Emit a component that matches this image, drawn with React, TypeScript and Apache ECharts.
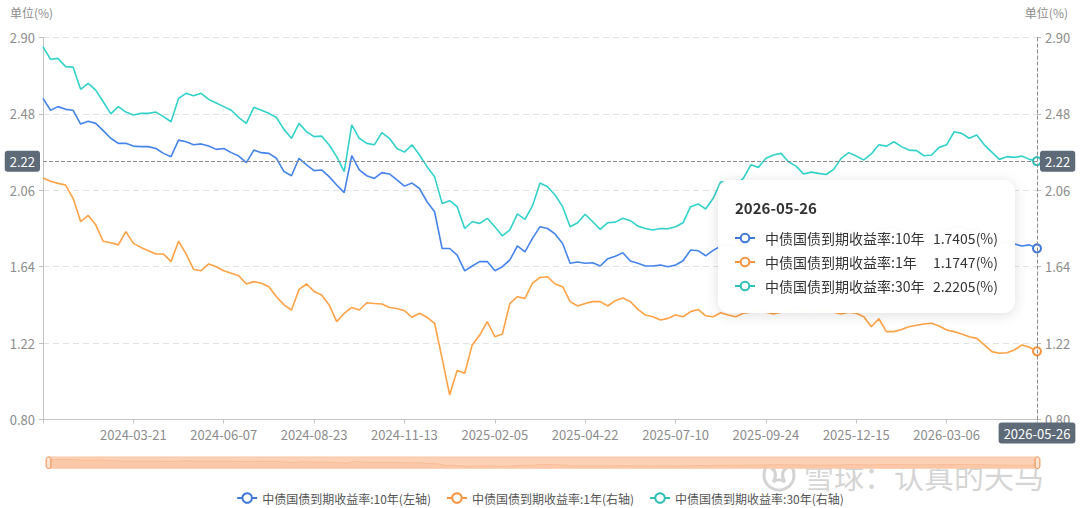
import React, { useEffect, useRef } from "react";
import * as echarts from "echarts";

const categories = [
  "2024-01-02", "2024-01-09", "2024-01-16", "2024-01-23", "2024-01-30", "2024-02-06", "2024-02-19", "2024-02-26", "2024-03-01", "2024-03-07", "2024-03-13", "2024-03-18",
  "2024-03-21", "2024-03-28", "2024-04-03", "2024-04-11", "2024-04-17", "2024-04-24", "2024-04-30", "2024-05-10", "2024-05-16", "2024-05-22", "2024-05-28", "2024-06-03",
  "2024-06-07", "2024-06-14", "2024-06-20", "2024-06-27", "2024-07-03", "2024-07-09", "2024-07-16", "2024-07-22", "2024-07-26", "2024-08-01", "2024-08-07", "2024-08-15",
  "2024-08-23", "2024-08-29", "2024-09-05", "2024-09-11", "2024-09-19", "2024-09-26", "2024-10-09", "2024-10-15", "2024-10-21", "2024-10-25", "2024-10-31", "2024-11-06",
  "2024-11-13", "2024-11-19", "2024-11-25", "2024-11-29", "2024-12-05", "2024-12-11", "2024-12-17", "2024-12-24", "2024-12-30", "2025-01-07", "2025-01-14", "2025-01-22",
  "2025-02-05", "2025-02-11", "2025-02-17", "2025-02-21", "2025-02-27", "2025-03-05", "2025-03-11", "2025-03-17", "2025-03-21", "2025-03-27", "2025-04-03", "2025-04-14",
  "2025-04-22", "2025-04-28", "2025-05-07", "2025-05-13", "2025-05-19", "2025-05-23", "2025-05-29", "2025-06-05", "2025-06-11", "2025-06-17", "2025-06-23", "2025-07-03",
  "2025-07-10", "2025-07-16", "2025-07-22", "2025-07-28", "2025-08-01", "2025-08-07", "2025-08-13", "2025-08-19", "2025-08-25", "2025-08-29", "2025-09-04", "2025-09-17",
  "2025-09-24", "2025-09-30", "2025-10-13", "2025-10-17", "2025-10-23", "2025-10-29", "2025-11-04", "2025-11-10", "2025-11-14", "2025-11-20", "2025-11-26", "2025-12-08",
  "2025-12-15", "2025-12-19", "2025-12-25", "2025-12-31", "2026-01-08", "2026-01-14", "2026-01-20", "2026-01-26", "2026-01-30", "2026-02-05", "2026-02-11", "2026-02-27",
  "2026-03-06", "2026-03-12", "2026-03-18", "2026-03-24", "2026-03-30", "2026-04-03", "2026-04-10", "2026-04-16", "2026-04-22", "2026-04-28", "2026-05-11", "2026-05-19",
  "2026-05-26",
];

const yield10Y = [
  2.565, 2.5, 2.52, 2.505, 2.5, 2.424, 2.44, 2.428, 2.388, 2.346, 2.318, 2.318,
  2.303, 2.3, 2.3, 2.29, 2.263, 2.245, 2.336, 2.327, 2.31, 2.315, 2.303, 2.285,
  2.29, 2.267, 2.248, 2.212, 2.281, 2.267, 2.263, 2.236, 2.163, 2.14, 2.236, 2.2,
  2.168, 2.172, 2.135, 2.089, 2.047, 2.25, 2.172, 2.14, 2.125, 2.157, 2.15, 2.117,
  2.083, 2.1, 2.07, 1.997, 1.942, 1.74, 1.74, 1.704, 1.617, 1.644, 1.668, 1.668,
  1.618, 1.64, 1.677, 1.754, 1.722, 1.796, 1.86, 1.85, 1.82, 1.768, 1.659, 1.666,
  1.659, 1.662, 1.644, 1.684, 1.698, 1.717, 1.671, 1.659, 1.644, 1.644, 1.649, 1.64,
  1.649, 1.673, 1.732, 1.728, 1.7, 1.73, 1.754, 1.76, 1.75, 1.77, 1.8, 1.79,
  1.82, 1.83, 1.83, 1.81, 1.8, 1.78, 1.79, 1.78, 1.78, 1.79, 1.82, 1.84,
  1.83, 1.82, 1.83, 1.85, 1.85, 1.86, 1.84, 1.83, 1.83, 1.82, 1.82, 1.84,
  1.84, 1.86, 1.86, 1.84, 1.85, 1.82, 1.8, 1.78, 1.77, 1.765, 1.754, 1.76,
  1.7405,
];

const yield1Y = [
  2.127, 2.11, 2.098, 2.089, 2.016, 1.888, 1.922, 1.87, 1.78, 1.772, 1.76, 1.833,
  1.768, 1.746, 1.728, 1.71, 1.71, 1.668, 1.78, 1.71, 1.625, 1.618, 1.655, 1.64,
  1.618, 1.604, 1.59, 1.545, 1.558, 1.549, 1.53, 1.475, 1.43, 1.402, 1.515, 1.545,
  1.504, 1.484, 1.43, 1.338, 1.384, 1.416, 1.402, 1.442, 1.438, 1.435, 1.416, 1.41,
  1.398, 1.362, 1.384, 1.362, 1.329, 1.136, 0.935, 1.07, 1.054, 1.21, 1.264, 1.338,
  1.255, 1.27, 1.438, 1.475, 1.466, 1.549, 1.581, 1.585, 1.545, 1.53, 1.448, 1.424,
  1.438, 1.448, 1.448, 1.424, 1.453, 1.468, 1.448, 1.405, 1.374, 1.365, 1.347, 1.356,
  1.374, 1.365, 1.393, 1.405, 1.37, 1.365, 1.387, 1.374, 1.365, 1.384, 1.39, 1.4,
  1.39, 1.38, 1.39, 1.4, 1.41, 1.4, 1.39, 1.4, 1.4, 1.39, 1.38, 1.39,
  1.384, 1.365, 1.31, 1.354, 1.283, 1.283, 1.295, 1.31, 1.318, 1.325, 1.329, 1.314,
  1.292, 1.283, 1.27, 1.255, 1.246, 1.21, 1.173, 1.164, 1.167, 1.182, 1.21, 1.197,
  1.1747,
];

const yield30Y = [
  2.85, 2.78, 2.785, 2.74, 2.737, 2.615, 2.648, 2.611, 2.547, 2.48, 2.52, 2.49,
  2.474, 2.483, 2.483, 2.49, 2.465, 2.437, 2.565, 2.593, 2.58, 2.593, 2.56, 2.54,
  2.52, 2.5, 2.46, 2.428, 2.516, 2.5, 2.483, 2.46, 2.395, 2.346, 2.428, 2.382,
  2.355, 2.358, 2.309, 2.245, 2.163, 2.42, 2.346, 2.318, 2.31, 2.377, 2.346, 2.29,
  2.27, 2.31, 2.254, 2.19, 2.135, 1.988, 2.003, 1.97, 1.85, 1.887, 1.878, 1.906,
  1.86, 1.81, 1.842, 1.93, 1.9, 1.974, 2.1, 2.08, 2.034, 1.97, 1.86, 1.882,
  1.928, 1.887, 1.845, 1.882, 1.885, 1.906, 1.893, 1.863, 1.85, 1.842, 1.85, 1.849,
  1.86, 1.882, 1.97, 1.985, 1.957, 2.016, 2.107, 2.1, 2.09, 2.125, 2.2, 2.186,
  2.236, 2.254, 2.263, 2.217, 2.193, 2.15, 2.16, 2.153, 2.147, 2.175, 2.236, 2.267,
  2.248, 2.227, 2.26, 2.31, 2.303, 2.327, 2.3, 2.281, 2.278, 2.25, 2.254, 2.296,
  2.31, 2.382, 2.373, 2.346, 2.364, 2.31, 2.27, 2.23, 2.245, 2.241, 2.248, 2.23,
  2.2205,
];

const seriesNames = [
  "中债国债到期收益率:10年(左轴)",
  "中债国债到期收益率:1年(右轴)",
  "中债国债到期收益率:30年(右轴)",
];
const seriesColors = ["#3f78d6", "#f5933f", "#2ebfb8"];
const yMin = 0.8;
const yMax = 2.9;
const yInterval = 0.42;
const labelEvery = 12;
const pointerValue = 2.22;
const unitText = "单位(%)";
const watermarkText = "雪球：认真的天马";

const FONT = '"Noto Sans CJK SC", "Noto Sans", sans-serif';
const POINTER_BG = "#5e6a78";

let logoRegistered = false;

export default function App() {
  const ref = useRef<HTMLDivElement>(null);

  useEffect(() => {
    document.body.style.margin = "0";
    if (!ref.current) return;
    if (!logoRegistered) {
      echarts.graphic.registerShape(
        "xqLogo",
        echarts.graphic.extendPath(
          "M8 9 C13 11 14 17 10 23 M24 9 C19 11 18 17 22 23 M10 23 C14 20 18 20 22 23",
          {}
        )
      );
      logoRegistered = true;
    }
    const chart = echarts.init(ref.current, undefined, { renderer: "svg" });

    const yAxisCommon = {
      type: "value",
      min: yMin,
      max: yMax,
      interval: yInterval,
      axisLabel: {
        color: "#8c8c8c",
        fontSize: 13,
        fontFamily: FONT,
        margin: 8,
        formatter: (v: number) => v.toFixed(2),
      },
      axisTick: { show: true, length: 4, lineStyle: { color: "#bdbdbd" } },
    };

    const option: any = {
      animation: false,
      textStyle: { fontFamily: FONT },
      grid: { left: 43, right: 43, top: 37.5, bottom: 88.5, containLabel: false },
      tooltip: {
        trigger: "axis",
        transitionDuration: 0,
        backgroundColor: "rgba(255,255,255,0.97)",
        borderWidth: 0,
        padding: [18, 17, 15, 17],
        extraCssText: "border-radius:12px;box-shadow:0 2px 14px rgba(0,0,0,0.13);",
        position: (point: number[], _p: any, _d: any, _r: any, size: any) => [
          point[0] - size.contentSize[0] - 22,
          point[1] + 19,
        ],
        axisPointer: {
          type: "cross",
          crossStyle: { color: "#8a8a8a", type: "dashed", width: 1 },
          lineStyle: { color: "#8a8a8a", type: "dashed", width: 1 },
          label: {
            backgroundColor: POINTER_BG,
            color: "#fff",
            fontSize: 13,
            fontFamily: FONT,
            padding: [4, 5, 4, 5],
            borderRadius: 3,
            formatter: (p: any) =>
              p.axisDimension === "y" ? Number(p.value).toFixed(2) : String(p.value),
          },
        },
        formatter: (params: any) => {
          const list = Array.isArray(params) ? params : [params];
          const title = list.length ? list[0].axisValue : "";
          let html = `<div style="font-family:${FONT};">`;
          html += `<div style="font-size:15px;font-weight:bold;color:#333;line-height:20px;margin-bottom:8px">${title}</div>`;
          list.forEach((p: any) => {
            const name = String(p.seriesName).replace(/\((左轴|右轴)\)$/, "");
            html +=
              `<div style="display:flex;align-items:center;width:263px;height:24px;font-size:14px;color:#333">` +
              `<svg width="20" height="12" style="flex:none"><line x1="0" y1="6" x2="20" y2="6" stroke="${p.color}" stroke-width="2"/>` +
              `<circle cx="10" cy="6" r="4.3" fill="#fff" stroke="${p.color}" stroke-width="2"/></svg>` +
              `<span style="margin-left:10px">${name}</span>` +
              `<span style="margin-left:auto">${Number(p.value).toFixed(4)}(%)</span></div>`;
          });
          return html + "</div>";
        },
      },
      legend: {
        data: seriesNames,
        left: "center",
        top: 487,
        itemWidth: 20,
        itemHeight: 12,
        itemGap: 15,
        textStyle: { fontSize: 12, color: "#555", fontFamily: FONT },
      },
      xAxis: {
        type: "category",
        boundaryGap: false,
        data: categories,
        axisLine: { show: true, lineStyle: { color: "#c4c4c4" } },
        axisTick: {
          show: true,
          length: 4,
          interval: labelEvery - 1,
          lineStyle: { color: "#c4c4c4" },
        },
        axisLabel: {
          color: "#8c8c8c",
          fontSize: 13,
          fontFamily: FONT,
          margin: 8,
          interval: (idx: number) =>
            idx % labelEvery === 0 && idx !== 0 && idx !== categories.length - 1,
        },
        splitLine: { show: false },
      },
      yAxis: [
        {
          ...yAxisCommon,
          position: "left",
          axisLine: { show: true, lineStyle: { color: "#c4c4c4" } },
          splitLine: { show: true, lineStyle: { color: "#e2e2e2", type: [6, 4] } },
        },
        {
          ...yAxisCommon,
          position: "right",
          axisLine: { show: false },
          splitLine: { show: false },
        },
      ],
      dataZoom: [
        {
          type: "slider",
          xAxisIndex: 0,
          start: 0,
          end: 100,
          left: 45,
          right: 44,
          top: 456.5,
          height: 11.5,
          showDetail: false,
          brushSelect: false,
          moveHandleSize: 0,
          borderColor: "#f9c6a2",
          backgroundColor: "#fde3d1",
          fillerColor: "rgba(249,176,128,0.35)",
          dataBackground: {
            lineStyle: { color: "#f4b48a", width: 0.6 },
            areaStyle: { color: "#fbd3b8", opacity: 0.7 },
          },
          selectedDataBackground: {
            lineStyle: { color: "#f4b48a", width: 0.6 },
            areaStyle: { color: "#fbd3b8", opacity: 0.7 },
          },
          handleIcon:
            "path://M5,0 C7.8,0 10,2.2 10,5 L10,19 C10,21.8 7.8,24 5,24 C2.2,24 0,21.8 0,19 L0,5 C0,2.2 2.2,0 5,0 Z",
          handleSize: "100%",
          handleStyle: { color: "#fde3d1", borderColor: "#ee8a4c", borderWidth: 1 },
        },
      ],
      series: [
        { data: yield10Y, yAxisIndex: 0 },
        { data: yield1Y, yAxisIndex: 1 },
        { data: yield30Y, yAxisIndex: 1 },
      ].map((s, i) => ({
        type: "line",
        name: seriesNames[i],
        data: s.data,
        yAxisIndex: s.yAxisIndex,
        color: seriesColors[i],
        showSymbol: false,
        symbol: "emptyCircle",
        symbolSize: 8,
        itemStyle: { color: seriesColors[i], borderWidth: 2 },
        lineStyle: { width: 1.6, color: seriesColors[i] },
        emphasis: { scale: false, lineStyle: { width: 1.6 } },
      })),
      graphic: [
        {
          type: "text",
          left: 10,
          top: 6,
          style: { text: unitText, fill: "#8c8c8c", fontSize: 12, fontFamily: FONT },
        },
        {
          type: "text",
          right: 12,
          top: 6,
          style: { text: unitText, fill: "#8c8c8c", fontSize: 12, fontFamily: FONT },
        },
        {
          type: "group",
          z: 100,
          children: [
            {
              type: "circle",
              shape: { cx: 779, cy: 475, r: 15 },
              style: { fill: "none", stroke: "rgba(175,175,175,0.55)", lineWidth: 3 },
            },
            {
              type: "xqLogo",
              x: 763,
              y: 459,
              style: { fill: "none", stroke: "rgba(175,175,175,0.55)", lineWidth: 3 },
            },
            {
              type: "text",
              x: 804,
              y: 475,
              style: {
                text: watermarkText,
                fill: "rgba(170,170,170,0.5)",
                stroke: "rgba(255,255,255,0.6)",
                lineWidth: 1,
                fontSize: 30,
                fontFamily: FONT,
                verticalAlign: "middle",
              },
            },
          ],
        },
      ],
    };

    chart.setOption(option);

    const lastIdx = categories.length - 1;
    const px = chart.convertToPixel({ xAxisIndex: 0 }, lastIdx) as number;
    const py = chart.convertToPixel({ yAxisIndex: 0 }, pointerValue) as number;
    chart.dispatchAction({ type: "showTip", x: px, y: py });

    return () => {
      chart.dispose();
    };
  }, []);

  return <div ref={ref} style={{ width: 1080, height: 508 }} />;
}
